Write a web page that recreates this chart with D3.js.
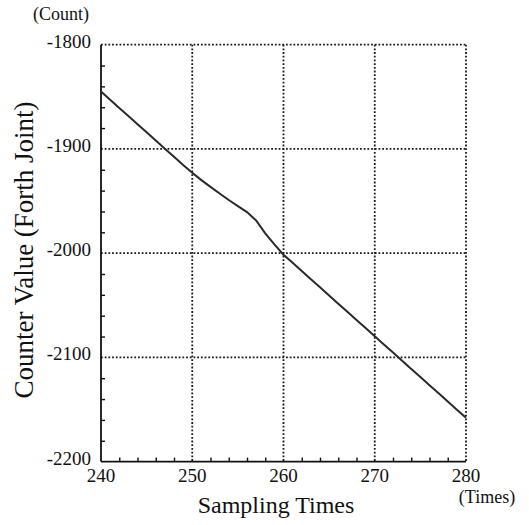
<!DOCTYPE html>
<html>
<head>
<meta charset="utf-8">
<script src="https://cdn.jsdelivr.net/npm/d3@7"></script>
<style>
  body { margin: 0; background: #fff; }
  text { font-family: "Liberation Serif", "DejaVu Serif", serif; fill: #111; }
</style>
</head>
<body>
<svg id="chart" width="529" height="525"></svg>
<script>
const width = 529, height = 525;
const margin = { top: 44.7, right: 63, bottom: 63.4, left: 101 };

// sampling index and encoder counter of the fourth joint
const samples = d3.range(240, 281);
const counts = [
  -1845.0, -1852.8, -1860.7, -1868.5, -1876.3, -1884.1, -1892.0, -1899.8, -1907.6, -1915.4,
  -1922.8, -1929.9, -1936.4, -1942.8, -1949.0, -1954.9, -1960.6, -1968.6, -1981.0, -1991.6,
  -2001.5, -2009.3, -2017.2, -2025.0, -2032.8, -2040.6, -2048.5, -2056.3, -2064.1, -2071.9,
  -2079.8, -2087.6, -2095.4, -2103.2, -2111.1, -2118.9, -2126.7, -2134.5, -2142.4, -2150.2,
  -2158.0
];
const xTicks = [240, 250, 260, 270, 280];
const yTicks = [-1800, -1900, -2000, -2100, -2200];

const data = samples.map((s, i) => ({ t: s, v: counts[i] }));

const svg = d3.select("#chart");
const innerW = width - margin.left - margin.right;
const innerH = height - margin.top - margin.bottom;

const x = d3.scaleLinear().domain([240, 280]).range([margin.left, margin.left + innerW]);
const y = d3.scaleLinear().domain([-2200, -1800]).range([margin.top + innerH, margin.top]);

// dotted grid (also forms the top and right frame)
svg.append("g")
  .selectAll("line")
  .data(xTicks.slice(1))
  .enter().append("line")
  .attr("x1", d => x(d)).attr("x2", d => x(d))
  .attr("y1", y(-1800)).attr("y2", y(-2200))
  .attr("stroke", "#1a1a1a").attr("stroke-width", 1.8)
  .attr("stroke-dasharray", "1.8,1.9");

svg.append("g")
  .selectAll("line")
  .data(yTicks.slice(0, 4))
  .enter().append("line")
  .attr("x1", x(240)).attr("x2", x(280))
  .attr("y1", d => y(d)).attr("y2", d => y(d))
  .attr("stroke", "#1a1a1a").attr("stroke-width", 1.8)
  .attr("stroke-dasharray", "1.8,1.9");

// solid axes with small inward minor ticks
const xAxis = d3.axisTop(x).tickValues(d3.range(242, 280, 2).filter(d => d % 10)).tickSize(4).tickFormat("");
svg.append("g")
  .attr("transform", `translate(0,${y(-2200)})`)
  .call(xAxis)
  .call(g => g.select(".domain").remove())
  .call(g => g.selectAll("line").attr("stroke", "#111").attr("stroke-width", 1.4));

const yAxis = d3.axisRight(y).tickValues(d3.range(-2180, -1800, 20).filter(d => d % 100)).tickSize(4).tickFormat("");
svg.append("g")
  .attr("transform", `translate(${x(240)},0)`)
  .call(yAxis)
  .call(g => g.select(".domain").remove())
  .call(g => g.selectAll("line").attr("stroke", "#111").attr("stroke-width", 1.4));

svg.append("line")
  .attr("x1", x(240)).attr("x2", x(280))
  .attr("y1", y(-2200)).attr("y2", y(-2200))
  .attr("stroke", "#111").attr("stroke-width", 1.8);
svg.append("line")
  .attr("x1", x(240)).attr("x2", x(240))
  .attr("y1", y(-1800)).attr("y2", y(-2200))
  .attr("stroke", "#111").attr("stroke-width", 1.8);

// tick labels
svg.append("g")
  .selectAll("text")
  .data(xTicks)
  .enter().append("text")
  .attr("x", d => x(d))
  .attr("y", y(-2200) + 20)
  .attr("text-anchor", "middle")
  .attr("font-size", "19px")
  .text(d => d);

svg.append("g")
  .selectAll("text")
  .data(yTicks)
  .enter().append("text")
  .attr("x", x(240) - 10)
  .attr("y", d => y(d) + 3)
  .attr("text-anchor", "end")
  .attr("font-size", "19px")
  .text(d => d);

// units and titles
svg.append("text")
  .attr("x", 61).attr("y", 20)
  .attr("text-anchor", "middle")
  .attr("font-size", "18px")
  .text("(Count)");

svg.append("text")
  .attr("x", 487).attr("y", 503)
  .attr("text-anchor", "middle")
  .attr("font-size", "18px")
  .text("(Times)");

svg.append("text")
  .attr("x", 276).attr("y", 513)
  .attr("text-anchor", "middle")
  .attr("font-size", "24px")
  .text("Sampling Times");

svg.append("text")
  .attr("transform", "translate(33,250) rotate(-90)")
  .attr("text-anchor", "middle")
  .attr("font-size", "27px")
  .text("Counter Value (Forth Joint)");

// counter trace
const line = d3.line().x(d => x(d.t)).y(d => y(d.v));
svg.append("path")
  .datum(data)
  .attr("fill", "none")
  .attr("stroke", "#2a2a2a")
  .attr("stroke-width", 2)
  .attr("d", line);
</script>
</body>
</html>
